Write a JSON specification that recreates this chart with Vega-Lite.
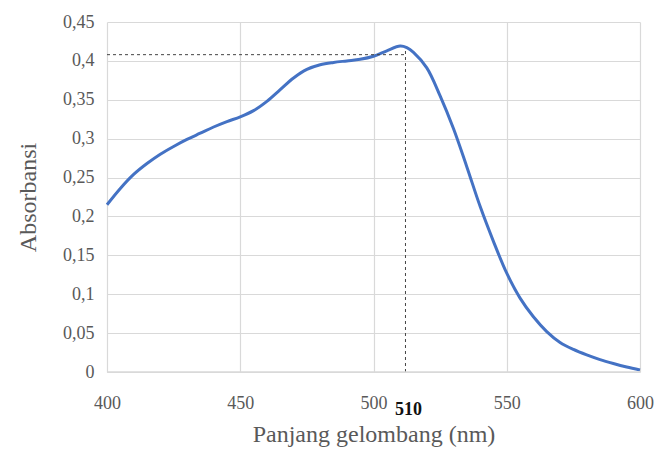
{
  "$schema": "https://vega.github.io/schema/vega-lite/v6.json",
  "width": 533,
  "height": 350,
  "autosize": {"type": "none"},
  "padding": {"left": 107, "top": 22, "right": 32, "bottom": 90},
  "background": "white",
  "config": {
    "font": "Liberation Serif",
    "view": {"stroke": null}
  },
  "encoding": {
    "x": {"field": "wl", "type": "quantitative", "scale": {"domain": [400, 600], "nice": false},
      "axis": {"values": [400, 450, 500, 550, 600], "title": "Panjang gelombang (nm)", "labelPadding": 22, "titlePadding": 10,
        "grid": true, "gridColor": "#d9d9d9", "gridWidth": 1.2, "ticks": false, "domain": false, "labelFlush": false, "labelOverlap": false,
        "labelFont": "Liberation Serif", "labelFontSize": 18, "labelColor": "#595959",
        "titleFont": "Liberation Serif", "titleFontSize": 24, "titleFontWeight": "normal", "titleColor": "#595959"}},
    "y": {"field": "abs", "type": "quantitative", "scale": {"domain": [0, 0.45], "nice": false},
      "axis": {"values": [0, 0.05, 0.1, 0.15, 0.2, 0.25, 0.3, 0.35, 0.4, 0.45], "labelExpr": "replace(format(datum.value, '.2~f'), '.', ',')",
        "title": "Absorbansi", "labelPadding": 13, "titlePadding": 22,
        "grid": true, "gridColor": "#d9d9d9", "gridWidth": 1.2, "ticks": false, "domain": false, "labelFlush": false, "labelOverlap": false,
        "labelFont": "Liberation Serif", "labelFontSize": 18, "labelColor": "#595959",
        "titleFont": "Liberation Serif", "titleFontSize": 24, "titleFontWeight": "normal", "titleColor": "#595959"}}
  },
  "layer": [
    {
      "data": {"values": [
        {"wl": 400, "abs": 0.215}, {"wl": 405, "abs": 0.236}, {"wl": 410, "abs": 0.254},
        {"wl": 415, "abs": 0.268}, {"wl": 420, "abs": 0.28}, {"wl": 425, "abs": 0.29},
        {"wl": 430, "abs": 0.299}, {"wl": 435, "abs": 0.307}, {"wl": 440, "abs": 0.315},
        {"wl": 445, "abs": 0.322}, {"wl": 450, "abs": 0.328}, {"wl": 455, "abs": 0.336},
        {"wl": 460, "abs": 0.348}, {"wl": 465, "abs": 0.363}, {"wl": 470, "abs": 0.378},
        {"wl": 475, "abs": 0.389}, {"wl": 480, "abs": 0.395}, {"wl": 485, "abs": 0.398},
        {"wl": 490, "abs": 0.4}, {"wl": 495, "abs": 0.402}, {"wl": 500, "abs": 0.406},
        {"wl": 505, "abs": 0.413}, {"wl": 510, "abs": 0.419}, {"wl": 512.5, "abs": 0.417},
        {"wl": 515, "abs": 0.411}, {"wl": 520, "abs": 0.391}, {"wl": 525, "abs": 0.355},
        {"wl": 530, "abs": 0.313}, {"wl": 535, "abs": 0.264}, {"wl": 540, "abs": 0.213},
        {"wl": 545, "abs": 0.168}, {"wl": 550, "abs": 0.127}, {"wl": 555, "abs": 0.095},
        {"wl": 560, "abs": 0.071}, {"wl": 565, "abs": 0.052}, {"wl": 570, "abs": 0.038},
        {"wl": 575, "abs": 0.029}, {"wl": 580, "abs": 0.022}, {"wl": 585, "abs": 0.016},
        {"wl": 590, "abs": 0.011}, {"wl": 595, "abs": 0.0065}, {"wl": 600, "abs": 0.0026}
      ]},
      "mark": {"type": "line", "interpolate": "catmull-rom", "color": "#4472c4", "strokeWidth": 3}
    },
    {
      "data": {"values": [{"wl": 400, "wl2": 512, "abs": 0.408, "abs2": 0.408}, {"wl": 512, "wl2": 512, "abs": 0, "abs2": 0.414}]},
      "mark": {"type": "rule", "color": "#444444", "strokeDash": [3, 3], "strokeWidth": 1},
      "encoding": {
        "x2": {"field": "wl2"},
        "y2": {"field": "abs2"}
      }
    },
    {
      "data": {"values": [{"wl": 400, "wl2": 600, "abs": 0}]},
      "mark": {"type": "rule", "color": "#d9d9d9", "strokeWidth": 1.5},
      "encoding": {"x2": {"field": "wl2"}}
    },
    {
      "data": {"values": [{"label": "510", "wl": 512, "abs": 0}]},
      "mark": {"type": "text", "font": "Liberation Serif", "fontSize": 18, "fontWeight": "bold", "color": "#111111", "dx": 3, "dy": 38},
      "encoding": {
        "text": {"field": "label"}
      }
    }
  ]
}
